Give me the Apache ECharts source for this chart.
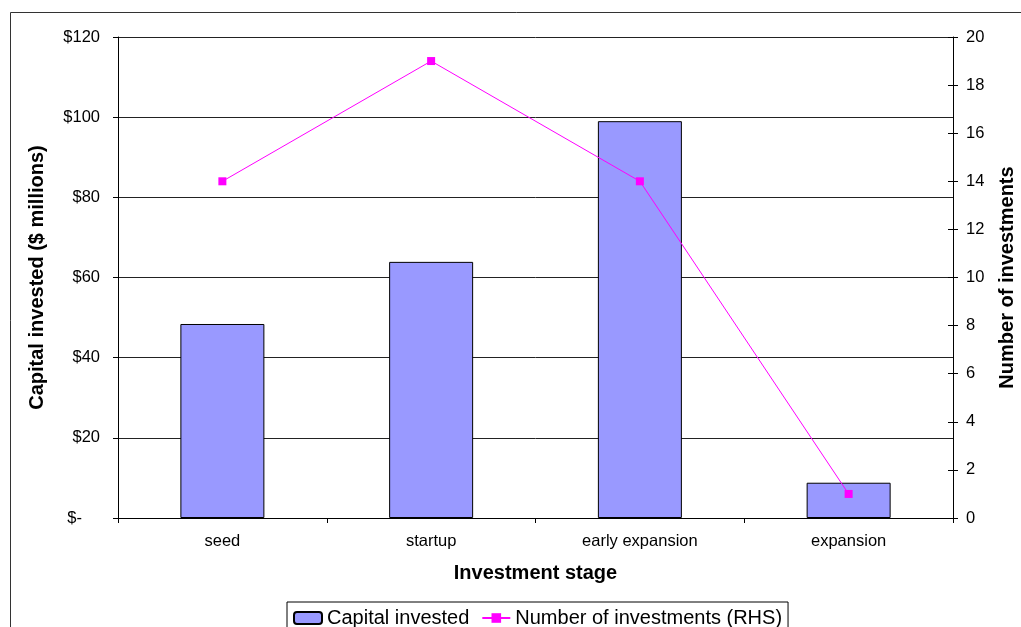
<!DOCTYPE html>
<html>
<head>
<meta charset="utf-8">
<style>
  html, body { margin: 0; padding: 0; background: #fff; }
  #chart { width: 1021px; height: 627px; }
</style>
<script src="https://cdn.jsdelivr.net/npm/echarts@6/dist/echarts.min.js"></script>
</head>
<body>
<div id="chart"></div>
<script>
// Investment stages and the two measures plotted against them
const stages = ['seed', 'startup', 'early expansion', 'expansion'];
const capitalInvested = [48.4, 63.9, 99.0, 8.8];      // $ millions (left axis)
const numberOfInvestments = [14, 19, 14, 1];          // count (right axis)
const capitalTicks = { min: 0, max: 120, interval: 20 };
const countTicks = { min: 0, max: 20, interval: 2 };

const FONT = '"Liberation Sans", Arial, sans-serif';

const chart = echarts.init(document.getElementById('chart'), null, { renderer: 'canvas' });

chart.setOption({
  backgroundColor: '#ffffff',
  animation: false,
  textStyle: { fontFamily: FONT, color: '#000' },
  graphic: [{
    type: 'rect',
    z: -10,
    silent: true,
    shape: { x: 10.5, y: 12.5, width: 1100, height: 700 },
    style: { fill: 'none', stroke: '#333', lineWidth: 1 }
  }],
  grid: { left: 118, right: 68, top: 37, bottom: 109, containLabel: false, outerBoundsMode: 'none' },
  legend: {
    left: 287,
    top: 602,
    orient: 'horizontal',
    padding: [6, 6, 4, 6],
    itemGap: 12,
    itemWidth: 28,
    itemHeight: 12,
    borderColor: '#000',
    borderWidth: 1,
    textStyle: { fontFamily: FONT, fontSize: 20, color: '#000' },
    data: ['Capital invested', 'Number of investments (RHS)']
  },
  xAxis: {
    type: 'category',
    data: stages,
    boundaryGap: true,
    name: 'Investment stage',
    nameLocation: 'middle',
    nameGap: 45,
    nameTextStyle: { fontFamily: FONT, fontSize: 20, fontWeight: 'bold', color: '#000' },
    axisLine: { lineStyle: { color: '#000', width: 1 } },
    axisTick: { show: true, length: 5, lineStyle: { color: '#000' } },
    axisLabel: { margin: 15, fontFamily: FONT, fontSize: 16.5, color: '#000' }
  },
  yAxis: [{
    type: 'value',
    position: 'left',
    min: capitalTicks.min,
    max: capitalTicks.max,
    interval: capitalTicks.interval,
    name: 'Capital invested ($ millions)',
    nameLocation: 'middle',
    nameRotate: 90,
    nameGap: 71,
    nameTextStyle: { fontFamily: FONT, fontSize: 20, fontWeight: 'bold', color: '#000' },
    axisLine: { show: true, lineStyle: { color: '#000', width: 1 } },
    axisTick: { show: true, length: 5, lineStyle: { color: '#000' } },
    splitLine: { show: true, lineStyle: { color: '#222', width: 1 } },
    axisLabel: {
      margin: 18,
      fontFamily: FONT,
      fontSize: 16.5,
      color: '#000',
      formatter: v => v === 0 ? '{z|$-}' : '$' + v,
      rich: { z: { fontFamily: FONT, fontSize: 16.5, color: '#000', padding: [0, 18, 0, 0] } }
    }
  }, {
    type: 'value',
    position: 'right',
    min: countTicks.min,
    max: countTicks.max,
    interval: countTicks.interval,
    name: 'Number of investments',
    nameLocation: 'middle',
    nameRotate: 90,
    nameGap: 44,
    nameTextStyle: { fontFamily: FONT, fontSize: 20, fontWeight: 'bold', color: '#000' },
    axisLine: { show: true, lineStyle: { color: '#000', width: 1 } },
    axisTick: { show: true, length: 5, lineStyle: { color: '#000' } },
    splitLine: { show: false },
    axisLabel: { margin: 13, fontFamily: FONT, fontSize: 16.5, color: '#000' }
  }, {
    // inner half of the crossing ticks on the right-hand axis
    type: 'value',
    position: 'right',
    min: countTicks.min,
    max: countTicks.max,
    interval: countTicks.interval,
    axisLine: { show: false },
    axisTick: { show: true, inside: true, length: 5, lineStyle: { color: '#000' } },
    splitLine: { show: false },
    axisLabel: { show: false }
  }],
  series: [{
    name: 'Capital invested',
    type: 'bar',
    yAxisIndex: 0,
    data: capitalInvested,
    barWidth: 84,
    itemStyle: { color: '#9999FF', borderColor: '#000', borderWidth: 1 },
    z: 2
  }, {
    name: 'Number of investments (RHS)',
    type: 'line',
    yAxisIndex: 1,
    data: numberOfInvestments,
    symbol: 'rect',
    symbolSize: 8,
    lineStyle: { color: '#FF00FF', width: 1 },
    itemStyle: { color: '#FF00FF' },
    z: 3
  }]
});
</script>
</body>
</html>
